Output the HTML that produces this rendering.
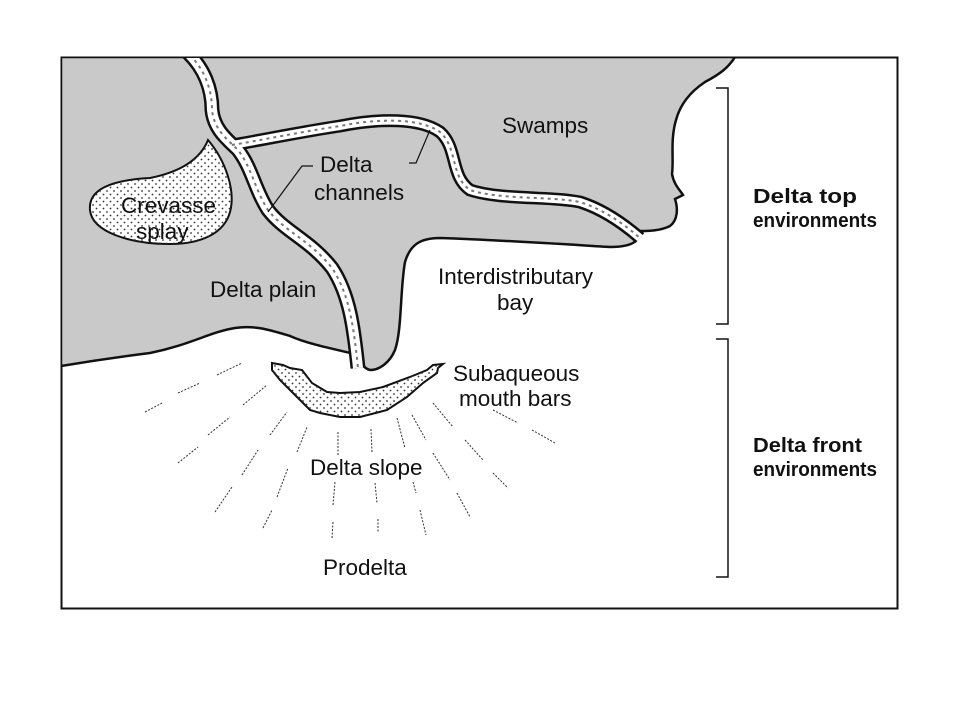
<!DOCTYPE html>
<html><head><meta charset="utf-8"><style>
html,body{margin:0;padding:0;background:#fff;}
svg{display:block;}
text{font-family:"Liberation Sans",Arial,sans-serif;font-size:22.5px;fill:#111;}
.b{font-weight:bold;font-size:20.5px;}
</style></head><body>
<svg width="960" height="720" viewBox="0 0 960 720" xmlns="http://www.w3.org/2000/svg">
<defs>
<pattern id="dots" width="7" height="7" patternUnits="userSpaceOnUse">
<circle cx="2" cy="2" r="0.9" fill="#333"/><circle cx="5.5" cy="5.5" r="0.9" fill="#333"/>
</pattern>
<clipPath id="fr"><rect x="61" y="58" width="836" height="550"/></clipPath>
</defs>
<rect x="61.5" y="57.5" width="836" height="551" fill="#fff" stroke="#111" stroke-width="2"/>
<g clip-path="url(#fr)">
<path d="M61,57 L735,57 C728,68 720,74 705,82 C690,92 680,105 676,120 C670,140 674,160 672,174 C674,185 680,190 683,195 L675,199 C678,208 678,220 670,226 C660,231 648,231 640,231 L638,238 C635,244 625,247 610,247 C560,244 500,240 440,238 C420,238 410,245 405,262 C400,290 402,330 395,350 C390,362 380,370 370,370 C362,368 360,360 358,355 C340,350 310,345 290,336 C270,330 255,325 235,328 C210,332 190,345 150,353 C110,358 85,362 61,366 Z" fill="#c9c9c9" stroke="#111" stroke-width="2.5"/>
<path d="M208,140 C225,160 236,190 230,212 C224,234 200,244 170,244 C130,244 92,232 90,210 C88,190 110,180 150,178 C180,172 200,160 208,140 Z" fill="#fff" stroke="#111" stroke-width="2"/>
<path d="M208,140 C225,160 236,190 230,212 C224,234 200,244 170,244 C130,244 92,232 90,210 C88,190 110,180 150,178 C180,172 200,160 208,140 Z" fill="url(#dots)"/>
<g fill="none" stroke-linecap="butt" stroke-linejoin="round">
<path id="c1" d="M185,50 C205,68 212,90 212,110 C214,130 228,140 238,150 C252,168 255,190 268,210 C285,232 310,240 332,268 C350,295 354,330 358,368"/>
<path id="c2" d="M232,145 C262,140 300,132 340,126 C380,118 420,118 440,132 C458,148 450,176 470,190 C500,200 550,196 580,202 C605,210 625,225 640,238"/>
<use href="#c1" stroke="#111" stroke-width="15"/>
<use href="#c2" stroke="#111" stroke-width="13"/>
<use href="#c1" stroke="#fff" stroke-width="10"/>
<use href="#c2" stroke="#fff" stroke-width="8"/>
<use href="#c1" stroke="#777" stroke-width="2" stroke-dasharray="3,4"/>
<use href="#c2" stroke="#777" stroke-width="2" stroke-dasharray="3,4"/>
</g>
</g>
<path d="M272,363 L283,365 L290,368 L302,370 L312,383 L327,392 L340,393 L360,392 L383,387 L410,377 L427,370 L433,365 L443,364 L438,368 L437,373 L423,383 L407,397 L387,410 L360,417 L340,417 L320,413 L310,410 L293,393 L280,380 L272,370 Z" fill="#fff" stroke="#111" stroke-width="2"/>
<path d="M272,363 L283,365 L290,368 L302,370 L312,383 L327,392 L340,393 L360,392 L383,387 L410,377 L427,370 L433,365 L443,364 L438,368 L437,373 L423,383 L407,397 L387,410 L360,417 L340,417 L320,413 L310,410 L293,393 L280,380 L272,370 Z" fill="url(#dots)"/>
<path d="M313,166 L302,166 L268,212" fill="none" stroke="#111" stroke-width="1.2"/>
<path d="M409,163 L416,163 L430,130" fill="none" stroke="#111" stroke-width="1.2"/>
<g stroke="#333" stroke-width="1" stroke-dasharray="2,1.5">
<line x1="145" y1="412" x2="162" y2="403"/><line x1="178" y1="393" x2="200" y2="383"/><line x1="217" y1="375" x2="242" y2="363"/>
<line x1="243" y1="405" x2="267" y2="385"/><line x1="208" y1="435" x2="230" y2="417"/><line x1="178" y1="463" x2="198" y2="447"/>
<line x1="270" y1="435" x2="287" y2="412"/><line x1="242" y1="475" x2="258" y2="450"/><line x1="215" y1="512" x2="232" y2="487"/>
<line x1="297" y1="452" x2="307" y2="427"/><line x1="277" y1="497" x2="288" y2="468"/><line x1="263" y1="528" x2="272" y2="510"/>
<line x1="338" y1="432" x2="338" y2="455"/><line x1="333" y1="505" x2="335" y2="482"/><line x1="332" y1="538" x2="333" y2="522"/>
<line x1="371" y1="429" x2="372" y2="452"/><line x1="375" y1="483" x2="377" y2="503"/><line x1="378" y1="519" x2="378" y2="533"/>
<line x1="397" y1="418" x2="405" y2="448"/><line x1="413" y1="482" x2="416" y2="493"/><line x1="420" y1="510" x2="426" y2="535"/>
<line x1="412" y1="415" x2="426" y2="440"/><line x1="433" y1="453" x2="450" y2="480"/><line x1="457" y1="493" x2="470" y2="517"/>
<line x1="433" y1="403" x2="453" y2="427"/><line x1="465" y1="440" x2="483" y2="460"/><line x1="493" y1="473" x2="508" y2="488"/>
<line x1="493" y1="410" x2="518" y2="423"/><line x1="532" y1="430" x2="555" y2="443"/>
</g>
<path d="M716,88 L728,88 L728,324 L716,324" fill="none" stroke="#111" stroke-width="1.5"/>
<path d="M716,339 L728,339 L728,577 L716,577" fill="none" stroke="#111" stroke-width="1.5"/>
<text x="502" y="133">Swamps</text>
<text x="320" y="172">Delta</text>
<text x="314" y="200">channels</text>
<text x="121" y="213">Crevasse</text>
<text x="136" y="239">splay</text>
<text x="210" y="297">Delta plain</text>
<text x="438" y="284">Interdistributary</text>
<text x="497" y="310">bay</text>
<text x="453" y="381">Subaqueous</text>
<text x="459" y="406">mouth bars</text>
<text x="310" y="475">Delta slope</text>
<text x="323" y="575">Prodelta</text>
<text x="753" y="203" class="b" textLength="104" lengthAdjust="spacingAndGlyphs">Delta top</text>
<text x="753" y="227" class="b" textLength="124" lengthAdjust="spacingAndGlyphs">environments</text>
<text x="753" y="452" class="b" textLength="109" lengthAdjust="spacingAndGlyphs">Delta front</text>
<text x="753" y="476" class="b" textLength="124" lengthAdjust="spacingAndGlyphs">environments</text>
</svg>
</body></html>
